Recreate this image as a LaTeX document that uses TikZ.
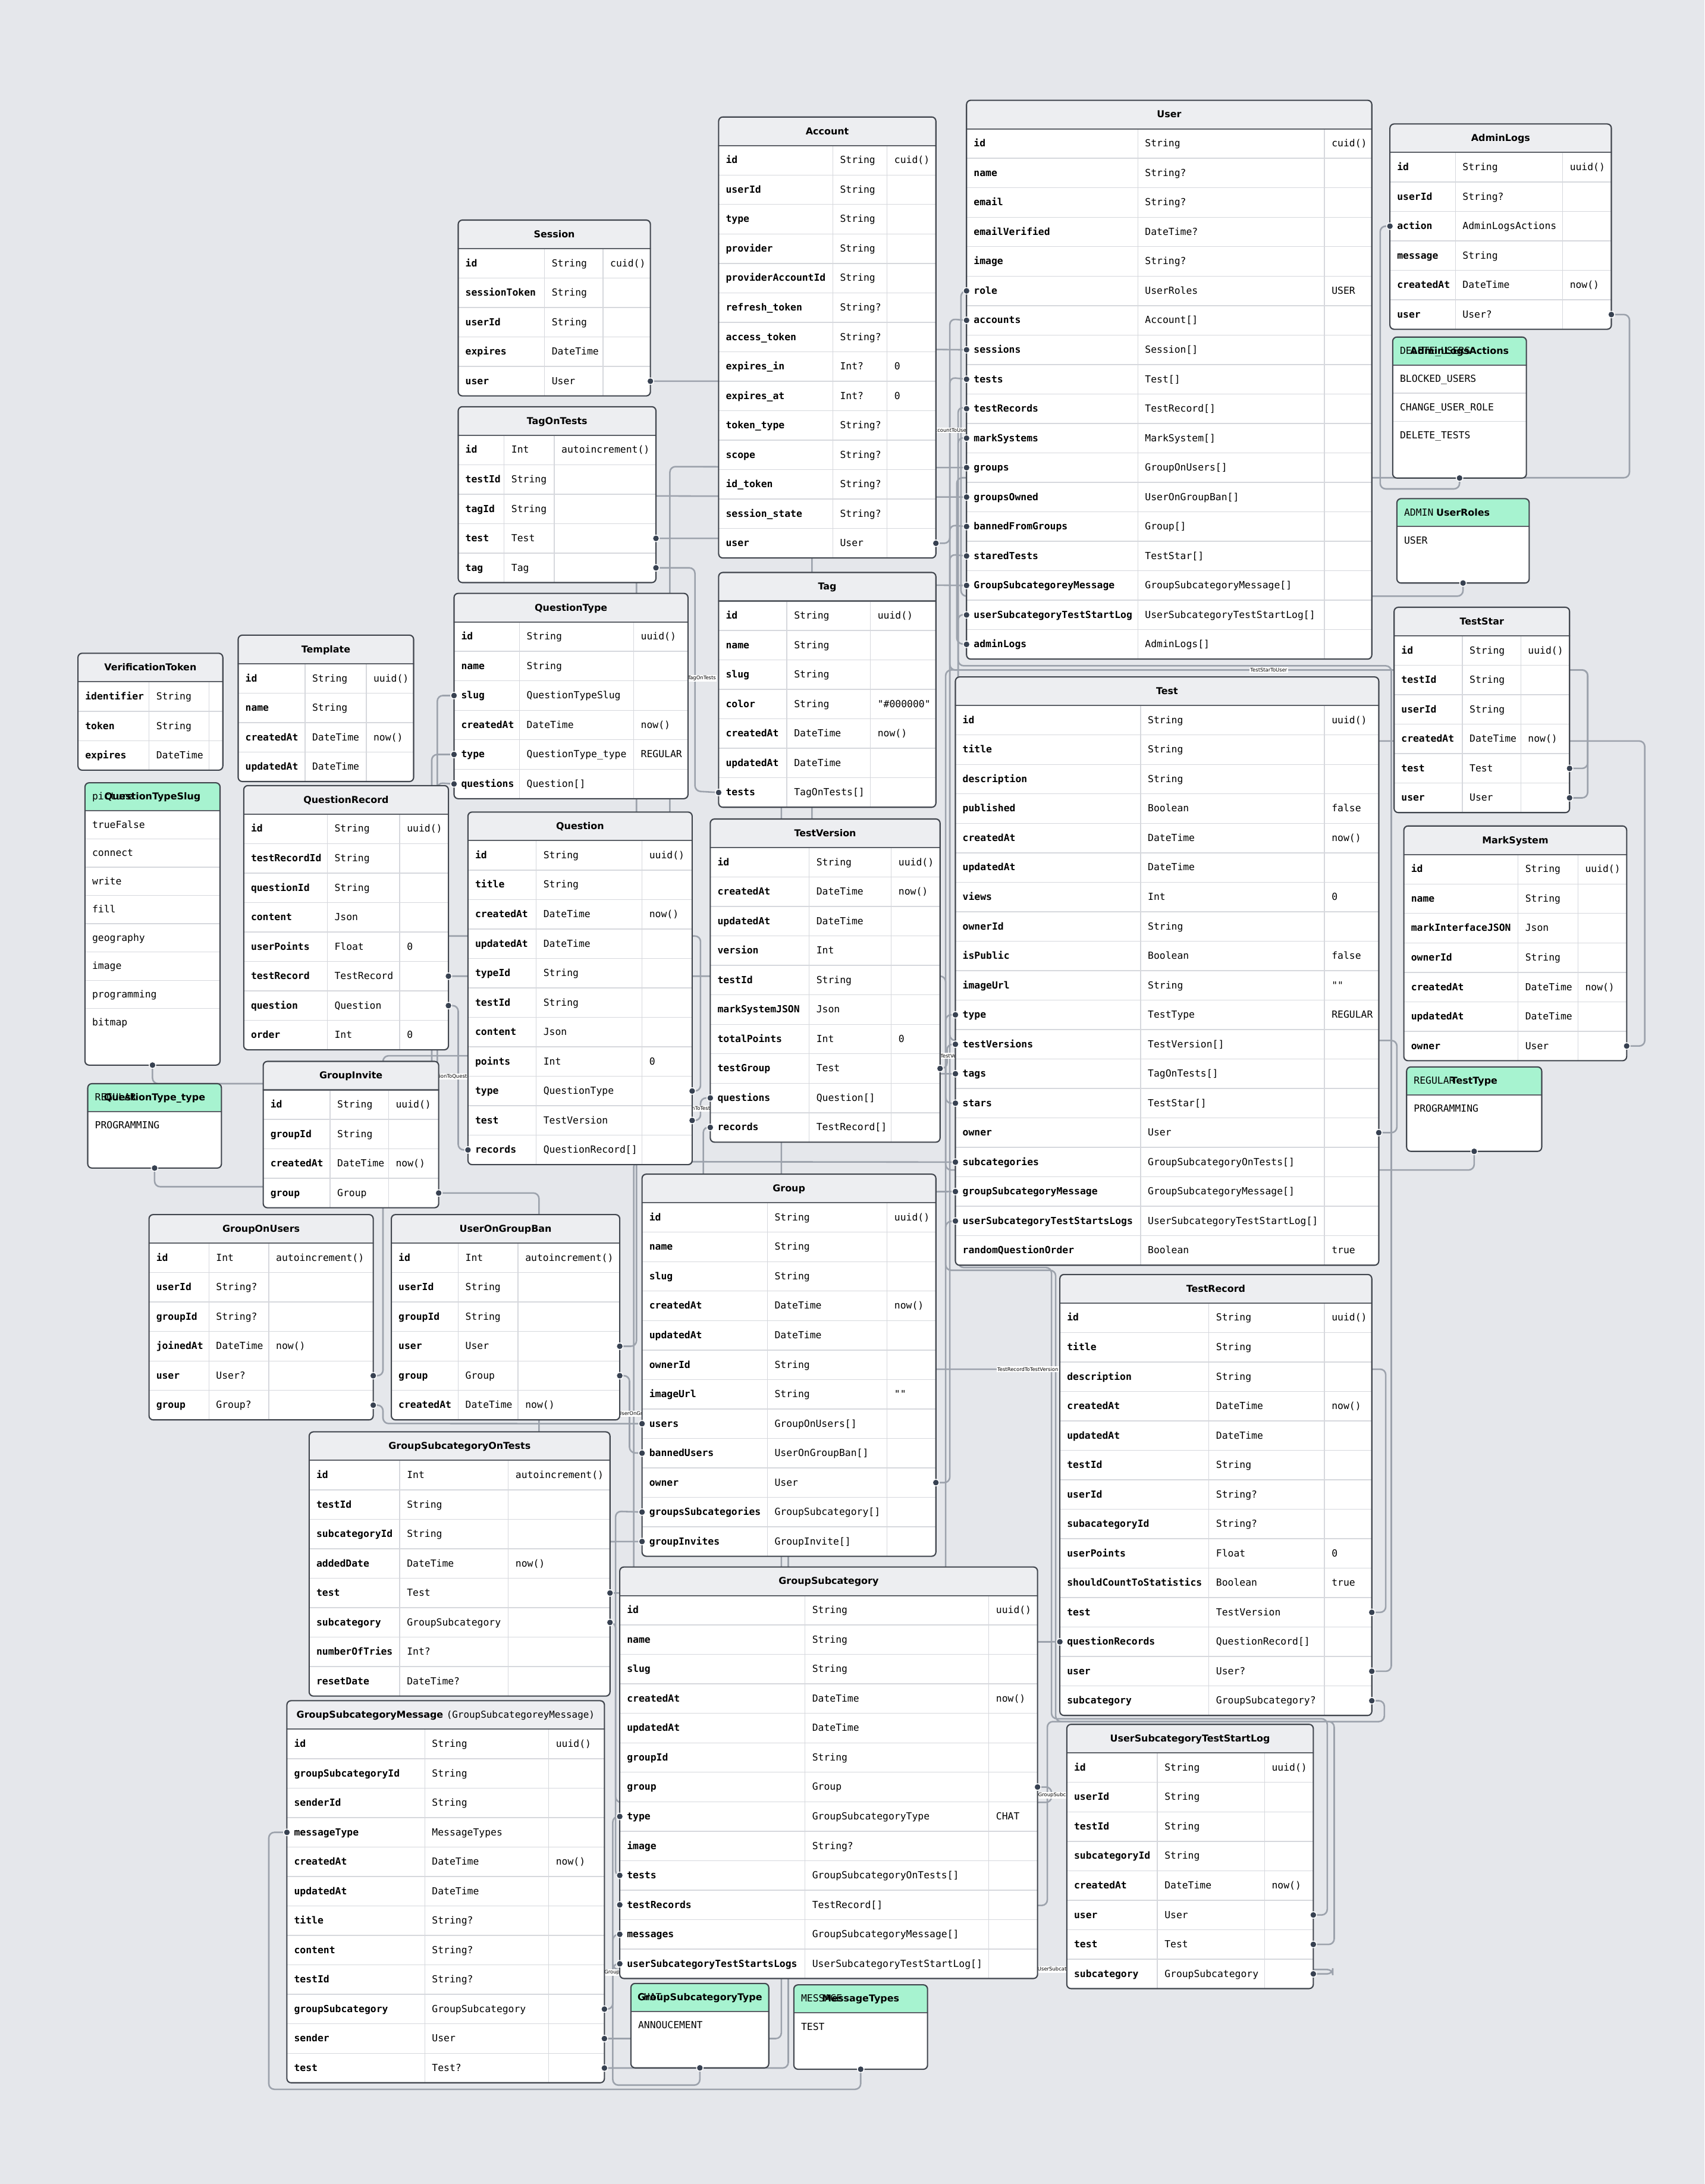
\documentclass[tikz,border=0pt]{standalone}
\usepackage{fontspec}
\newfontfamily\erdfont{DejaVu Sans Mono}[Ligatures=TeXOff]
\newfontfamily\erdtitlefont{DejaVu Sans}[Ligatures=TeXOff]
\definecolor{canvas}{HTML}{E5E7EB}
\definecolor{headgray}{HTML}{EDEEF1}
\definecolor{enumgreen}{HTML}{A7F3D0}
\definecolor{framecol}{HTML}{40454D}
\definecolor{rowcol}{HTML}{D6D8DD}
\definecolor{relcol}{HTML}{9CA2AC}
\definecolor{dotcol}{HTML}{374151}
\pgfdeclarelayer{canvaslayer}
\pgfdeclarelayer{edgelayer}
\pgfsetlayers{canvaslayer,edgelayer,main}
\tikzset{
  fieldname/.style={anchor=west, inner sep=0pt, text height=5.2pt, text depth=0.6pt, font=\erdfont\bfseries\fontsize{7}{8}\selectfont},
  fieldtype/.style={anchor=west, inner sep=0pt, text height=5.2pt, text depth=0.6pt, font=\erdfont\fontsize{7}{8}\selectfont},
  enumval/.style={fieldtype},
  tabletitle/.style={inner sep=0pt, text height=5.2pt, text depth=0.6pt, font=\erdtitlefont\bfseries\fontsize{6.8}{8}\selectfont},
  tableframe/.style={draw=framecol, line width=0.9pt, rounded corners=3pt, inner sep=0pt, outer sep=0pt},
  rowline/.style={draw=rowcol, line width=0.6pt},
  headline/.style={draw=framecol!85, line width=0.9pt},
  relline/.style={draw=relcol, line width=1.1pt, rounded corners=4pt},
  rellabel/.style={fill=white, inner sep=0.6pt, font=\erdtitlefont\fontsize{3.6}{4}\selectfont},
  enddot/.style={fill=dotcol, draw=white, line width=0.6pt}
}
\newcommand\erdnone{}
% #1 name, #2 left, #3 top, #4 type column, #5 default column, #6 right, #7 rows, #8 title, #9 fields
\newcommand\erdtable[9]{%
  \pgfmathsetmacro\tbot{#3+20.5+#7*21.15}
  \begin{scope}
    \clip[rounded corners=3pt] (#2,#3) rectangle (#6,\tbot);
    \fill[white] (#2,#3) rectangle (#6,\tbot);
    \fill[headgray] (#2,#3) rectangle (#6,{#3+20.5});
  \end{scope}
  \draw[rowline] (#4,{#3+20.5}) -- (#4,\tbot);
  \draw[rowline] (#5,{#3+20.5}) -- (#5,\tbot);
  \foreach \fldname/\fldtype/\flddef [count=\i] in {#9} {
    \pgfmathsetmacro\yc{#3+20.5+(\i-0.5)*21.15}
    \ifnum\i>1 \draw[rowline] (#2,{\yc-10.575}) -- (#6,{\yc-10.575}); \fi
    \coordinate (#1-\i-w) at (#2,\yc);
    \coordinate (#1-\i-e) at (#6,\yc);
    \node[fieldname] (#1-\i-n) at ({#2+5},\yc) {\fldname};
    \node[fieldtype] (#1-\i-t) at ({#4+5},\yc) {\fldtype};
    \node[fieldtype] (#1-\i-d) at ({#5+5},\yc) {\flddef};
  }
  \node[tabletitle] (#1-title) at ({(#2+#6)/2},{#3+10.25}) {#8};
  \draw[headline] (#2,{#3+20.5}) -- (#6,{#3+20.5});
  \node[tableframe, minimum width={#6-#2}, minimum height={\tbot-#3}, anchor=north west] (#1) at (#2,#3) {};
}
% #1 name, #2 left, #3 top, #4 right, #5 values, #6 value under the title, #7 title, #8 values
\newcommand\erdenum[8]{%
  \pgfmathsetmacro\tbot{#3+20+(#5+1)*20.3}
  \begin{scope}
    \clip[rounded corners=3pt] (#2,#3) rectangle (#4,\tbot);
    \fill[white] (#2,#3) rectangle (#4,\tbot);
    \fill[enumgreen] (#2,#3) rectangle (#4,{#3+20});
  \end{scope}
  \foreach \evalue [count=\i] in {#8} {
    \pgfmathsetmacro\yc{#3+20+(\i-0.5)*20.3}
    \ifnum\i>1 \draw[rowline] (#2,{\yc-10.15}) -- (#4,{\yc-10.15}); \fi
    \node[enumval] (#1-\i) at ({#2+5},\yc) {\evalue};
  }
  \node[enumval] (#1-first) at ({#2+5},{#3+10}) {#6};
  \node[tabletitle] (#1-title) at ({(#2+#4)/2},{#3+10}) {#7};
  \draw[headline] (#2,{#3+20}) -- (#4,{#3+20});
  \node[tableframe, minimum width={#4-#2}, minimum height={\tbot-#3}, anchor=north west] (#1) at (#2,#3) {};
}
\begin{document}
\begin{tikzpicture}[x=1pt, y=-1pt, line join=round, line cap=round]
	\begin{pgfonlayer}{canvaslayer}
	\fill[canvas] (0,0) rectangle (1224,1568);
	\end{pgfonlayer}
	\useasboundingbox (0,0) rectangle (1224,1568);
	% tables
	\erdtable{Session}{329}{158}{391}{433}{467}{5}{Session}{id/String/cuid(), sessionToken/String/\erdnone, userId/String/\erdnone, expires/DateTime/\erdnone, user/User/\erdnone}
	\erdtable{TagOnTests}{329}{292}{362}{398}{471}{5}{TagOnTests}{id/Int/autoincrement(), testId/String/\erdnone, tagId/String/\erdnone, test/Test/\erdnone, tag/Tag/\erdnone}
	\erdtable{Account}{516}{84}{598}{637}{672}{14}{Account}{id/String/cuid(), userId/String/\erdnone, type/String/\erdnone, provider/String/\erdnone, providerAccountId/String/\erdnone, refresh\_token/String?/\erdnone, access\_token/String?/\erdnone, expires\_in/Int?/0, expires\_at/Int?/0, token\_type/String?/\erdnone, scope/String?/\erdnone, id\_token/String?/\erdnone, session\_state/String?/\erdnone, user/User/\erdnone}
	\erdtable{User}{694}{72}{817}{951}{985}{18}{User}{id/String/cuid(), name/String?/\erdnone, email/String?/\erdnone, emailVerified/DateTime?/\erdnone, image/String?/\erdnone, role/UserRoles/USER, accounts/Account[]/\erdnone, sessions/Session[]/\erdnone, tests/Test[]/\erdnone, testRecords/TestRecord[]/\erdnone, markSystems/MarkSystem[]/\erdnone, groups/GroupOnUsers[]/\erdnone, groupsOwned/UserOnGroupBan[]/\erdnone, bannedFromGroups/Group[]/\erdnone, staredTests/TestStar[]/\erdnone, GroupSubcategoreyMessage/GroupSubcategoryMessage[]/\erdnone, userSubcategoryTestStartLog/UserSubcategoryTestStartLog[]/\erdnone, adminLogs/AdminLogs[]/\erdnone}
	\erdtable{AdminLogs}{998}{89}{1045}{1122}{1157}{6}{AdminLogs}{id/String/uuid(), userId/String?/\erdnone, action/AdminLogsActions/\erdnone, message/String/\erdnone, createdAt/DateTime/now(), user/User?/\erdnone}
	\erdenum{AdminLogsActions}{1000}{242}{1096}{3}{DELETE\_USERS}{AdminLogsActions}{BLOCKED\_USERS, CHANGE\_USER\_ROLE, DELETE\_TESTS}
	\erdenum{UserRoles}{1003}{358}{1098}{1}{ADMIN}{UserRoles}{USER}
	\erdtable{TestStar}{1001}{436}{1050}{1092}{1127}{6}{TestStar}{id/String/uuid(), testId/String/\erdnone, userId/String/\erdnone, createdAt/DateTime/now(), test/Test/\erdnone, user/User/\erdnone}
	\erdtable{Tag}{516}{411}{565}{625}{672}{7}{Tag}{id/String/uuid(), name/String/\erdnone, slug/String/\erdnone, color/String/"\#000000", createdAt/DateTime/now(), updatedAt/DateTime/\erdnone, tests/TagOnTests[]/\erdnone}
	\erdtable{QuestionType}{326}{426}{373}{455}{494}{6}{QuestionType}{id/String/uuid(), name/String/\erdnone, slug/QuestionTypeSlug/\erdnone, createdAt/DateTime/now(), type/QuestionType\_type/REGULAR, questions/Question[]/\erdnone}
	\erdtable{Template}{171}{456}{219}{263}{297}{4}{Template}{id/String/uuid(), name/String/\erdnone, createdAt/DateTime/now(), updatedAt/DateTime/\erdnone}
	\erdtable{VerificationToken}{56}{469}{107}{150}{160}{3}{VerificationToken}{identifier/String/\erdnone, token/String/\erdnone, expires/DateTime/\erdnone}
	\erdenum{QuestionTypeSlug}{61}{562}{158}{8}{picture}{QuestionTypeSlug}{trueFalse, connect, write, fill, geography, image, programming, bitmap}
	\erdenum{QuestionTypeType}{63}{778}{159}{1}{REGULAR}{QuestionType\_type}{PROGRAMMING}
	\erdtable{QuestionRecord}{175}{564}{235}{287}{322}{8}{QuestionRecord}{id/String/uuid(), testRecordId/String/\erdnone, questionId/String/\erdnone, content/Json/\erdnone, userPoints/Float/0, testRecord/TestRecord/\erdnone, question/Question/\erdnone, order/Int/0}
	\erdtable{Question}{336}{583}{385}{461}{497}{11}{Question}{id/String/uuid(), title/String/\erdnone, createdAt/DateTime/now(), updatedAt/DateTime/\erdnone, typeId/String/\erdnone, testId/String/\erdnone, content/Json/\erdnone, points/Int/0, type/QuestionType/\erdnone, test/TestVersion/\erdnone, records/QuestionRecord[]/\erdnone}
	\erdtable{TestVersion}{510}{588}{581}{640}{675}{10}{TestVersion}{id/String/uuid(), createdAt/DateTime/now(), updatedAt/DateTime/\erdnone, version/Int/\erdnone, testId/String/\erdnone, markSystemJSON/Json/\erdnone, totalPoints/Int/0, testGroup/Test/\erdnone, questions/Question[]/\erdnone, records/TestRecord[]/\erdnone}
	\erdtable{Test}{686}{486}{819}{951}{990}{19}{Test}{id/String/uuid(), title/String/\erdnone, description/String/\erdnone, published/Boolean/false, createdAt/DateTime/now(), updatedAt/DateTime/\erdnone, views/Int/0, ownerId/String/\erdnone, isPublic/Boolean/false, imageUrl/String/"", type/TestType/REGULAR, testVersions/TestVersion[]/\erdnone, tags/TagOnTests[]/\erdnone, stars/TestStar[]/\erdnone, owner/User/\erdnone, subcategories/GroupSubcategoryOnTests[]/\erdnone, groupSubcategoryMessage/GroupSubcategoryMessage[]/\erdnone, userSubcategoryTestStartsLogs/UserSubcategoryTestStartLog[]/\erdnone, randomQuestionOrder/Boolean/true}
	\erdtable{MarkSystem}{1008}{593}{1090}{1133}{1168}{7}{MarkSystem}{id/String/uuid(), name/String/\erdnone, markInterfaceJSON/Json/\erdnone, ownerId/String/\erdnone, createdAt/DateTime/now(), updatedAt/DateTime/\erdnone, owner/User/\erdnone}
	\erdenum{TestType}{1010}{766}{1107}{1}{REGULAR}{TestType}{PROGRAMMING}
	\erdtable{GroupInvite}{189}{762}{237}{279}{315}{4}{GroupInvite}{id/String/uuid(), groupId/String/\erdnone, createdAt/DateTime/now(), group/Group/\erdnone}
	\erdtable{GroupOnUsers}{107}{872}{150}{193}{268}{6}{GroupOnUsers}{id/Int/autoincrement(), userId/String?/\erdnone, groupId/String?/\erdnone, joinedAt/DateTime/now(), user/User?/\erdnone, group/Group?/\erdnone}
	\erdtable{UserOnGroupBan}{281}{872}{329}{372}{445}{6}{UserOnGroupBan}{id/Int/autoincrement(), userId/String/\erdnone, groupId/String/\erdnone, user/User/\erdnone, group/Group/\erdnone, createdAt/DateTime/now()}
	\erdtable{Group}{461}{843}{551}{637}{672}{12}{Group}{id/String/uuid(), name/String/\erdnone, slug/String/\erdnone, createdAt/DateTime/now(), updatedAt/DateTime/\erdnone, ownerId/String/\erdnone, imageUrl/String/"", users/GroupOnUsers[]/\erdnone, bannedUsers/UserOnGroupBan[]/\erdnone, owner/User/\erdnone, groupsSubcategories/GroupSubcategory[]/\erdnone, groupInvites/GroupInvite[]/\erdnone}
	\erdtable{TestRecord}{761}{915}{868}{951}{985}{14}{TestRecord}{id/String/uuid(), title/String/\erdnone, description/String/\erdnone, createdAt/DateTime/now(), updatedAt/DateTime/\erdnone, testId/String/\erdnone, userId/String?/\erdnone, subacategoryId/String?/\erdnone, userPoints/Float/0, shouldCountToStatistics/Boolean/true, test/TestVersion/\erdnone, questionRecords/QuestionRecord[]/\erdnone, user/User?/\erdnone, subcategory/GroupSubcategory?/\erdnone}
	\erdtable{GroupSubcategoryOnTests}{222}{1028}{287}{365}{438}{8}{GroupSubcategoryOnTests}{id/Int/autoincrement(), testId/String/\erdnone, subcategoryId/String/\erdnone, addedDate/DateTime/now(), test/Test/\erdnone, subcategory/GroupSubcategory/\erdnone, numberOfTries/Int?/\erdnone, resetDate/DateTime?/\erdnone}
	\erdtable{GroupSubcategory}{445}{1125}{578}{710}{745}{13}{GroupSubcategory}{id/String/uuid(), name/String/\erdnone, slug/String/\erdnone, createdAt/DateTime/now(), updatedAt/DateTime/\erdnone, groupId/String/\erdnone, group/Group/\erdnone, type/GroupSubcategoryType/CHAT, image/String?/\erdnone, tests/GroupSubcategoryOnTests[]/\erdnone, testRecords/TestRecord[]/\erdnone, messages/GroupSubcategoryMessage[]/\erdnone, userSubcategoryTestStartsLogs/UserSubcategoryTestStartLog[]/\erdnone}
	\erdtable{GroupSubcategoryMessage}{206}{1221}{305}{394}{434}{12}{GroupSubcategoryMessage\ \mdseries\erdfont(GroupSubcategoreyMessage)}{id/String/uuid(), groupSubcategoryId/String/\erdnone, senderId/String/\erdnone, messageType/MessageTypes/\erdnone, createdAt/DateTime/now(), updatedAt/DateTime/\erdnone, title/String?/\erdnone, content/String?/\erdnone, testId/String?/\erdnone, groupSubcategory/GroupSubcategory/\erdnone, sender/User/\erdnone, test/Test?/\erdnone}
	\erdtable{UserSubcategoryTestStartLog}{766}{1238}{831}{908}{943}{8}{UserSubcategoryTestStartLog}{id/String/uuid(), userId/String/\erdnone, testId/String/\erdnone, subcategoryId/String/\erdnone, createdAt/DateTime/now(), user/User/\erdnone, test/Test/\erdnone, subcategory/GroupSubcategory/\erdnone}
	\erdenum{GroupSubcategoryType}{453}{1424}{552}{1}{CHAT}{GroupSubcategoryType}{ANNOUCEMENT}
	\erdenum{MessageTypes}{570}{1425}{666}{1}{MESSAGE}{MessageTypes}{TEST}
	% relations, under the tables
	\begin{pgfonlayer}{edgelayer}
	\draw[relline] (Account-14-e) -| (682,229) -- (User-7-w);
	\draw[relline] (Session-5-e) -| (577,250) -- (User-8-w);
	\draw[relline] (User-6-w) -| (690,428) -| (UserRoles.south);
	\draw[relline] (AdminLogs-3-w) -| (991,351) -| (AdminLogsActions.south);
	\draw[relline] (AdminLogs-6-e) -| (1170,343) -| (687,462) -- (User-18-w);
	\draw[relline] (TestStar-6-e) -| (1140,481) -| (682,398) -- (User-15-w);
	\draw[relline] (TestStar-5-e) -| (1140,481) -| (679,792) -- (Test-14-w);
	\draw[relline] (Test-15-e) -| (1003,747) -| (682,271) -- (User-9-w);
	\draw[relline] (TestType.south) |- (679,840) |- (Test-11-w);
	\draw[relline] (TagOnTests-4-e) -| (583,771) -- (Test-13-w);
	\draw[relline] (TagOnTests-5-e) -| (499,568) -- (Tag-7-w);
	\draw[relline] (QuestionType-3-w) -| (314,778) -| (QuestionTypeSlug.south);
	\draw[relline] (QuestionType-5-w) -| (310,852) -| (QuestionTypeType.south);
	\draw[relline] (Question-9-e) -| (503,672) -| (314,562) -- (QuestionType-6-w);
	\draw[relline] (Question-10-e) -- ++(6,0) |- (TestVersion-9-w);
	\draw[relline] (QuestionRecord-7-e) -- ++(7,0) |- (Question-11-w);
	\draw[relline] (QuestionRecord-6-e) -| (679,1179) -- (TestRecord-12-w);
	\draw[relline] (TestRecord-11-e) -| (995,983) -| (505,809) -- (TestVersion-10-w);
	\draw[relline] (TestVersion-8-e) -- ++(5,0) |- (Test-12-w);
	\draw[relline] (MarkSystem-7-e) -| (1181,532) -| (688,314) -- (User-11-w);
	\draw[relline] (GroupInvite-4-e) -| (387,1107) -- (Group-12-w);
	\draw[relline] (GroupOnUsers-5-e) -| (275,758) -| (481,335) -- (User-12-w);
	\draw[relline] (GroupOnUsers-6-e) -| (275,1022) -- (Group-8-w);
	\draw[relline] (UserOnGroupBan-4-e) -| (457,356) -- (User-13-w);
	\draw[relline] (UserOnGroupBan-5-e) -| (452,1043) -- (Group-9-w);
	\draw[relline] (Group-10-e) -| (682,377) -- (User-14-w);
	\draw[relline] (GroupSubcategory-7-e) -| (755,1294) -| (442,1085) -- (Group-11-w);
	\draw[relline] (GroupSubcategory-8-w) -| (440,1497) -| (GroupSubcategoryType.south);
	\draw[relline] (GroupSubcategoryMessage-4-w) -| (193,1500) -| (MessageTypes.south);
	\draw[relline] (GroupSubcategoryMessage-10-e) -| (440,1389) -- (GroupSubcategory-12-w);
	\draw[relline] (GroupSubcategoryMessage-11-e) -| (561,419) -- (User-16-w);
	\draw[relline] (GroupSubcategoryMessage-12-e) -| (566,856) -- (Test-17-w);
	\draw[relline] (GroupSubcategoryOnTests-5-e) -| (455,834) -- (Test-16-w);
	\draw[relline] (GroupSubcategoryOnTests-6-e) -| (442,1347) -- (GroupSubcategory-10-w);
	\draw[relline] (TestRecord-13-e) -| (999,478) -| (688,292) -- (User-10-w);
	\draw[relline] (TestRecord-14-e) -| (994,1236) -| (752,1368) -- (GroupSubcategory-11-w);
	\draw[relline] (UserSubcategoryTestStartLog-6-e) -| (953,1234) -| (755,910) -| (688,441) -- (User-17-w);
	\draw[relline] (UserSubcategoryTestStartLog-7-e) -| (958,1236) -| (758,912) -| (679,877) -- (Test-18-w);
	\draw[relline] (UserSubcategoryTestStartLog-8-e) -| (957,1414) -| (440,1410) -- (GroupSubcategory-13-w);
	% relation names, mostly hidden by the tables
	\node[rellabel] (lblAccount) at (682,309) {AccountToUser};
	\node[rellabel] (lblStar) at (911,481) {TestStarToUser};
	\node[rellabel] (lblRecord) at (738,983) {TestRecordToTestVersion};
	\node[rellabel] (lblTag) at (499,487) {TagToTagOnTests};
	\node[rellabel] (lblVersion) at (680,758) {TestToTestVersion};
	\node[rellabel] (lblBan) at (452,1015) {GroupToUserOnGroupBan};
	\node[rellabel] (lblQuestion) at (329,773) {QuestionToQuestionRecord};
	\node[rellabel] (lblQVersion) at (503,796) {QuestionToTestVersion};
	\node[rellabel] (lblSubGroup) at (755,1289) {GroupToGroupSubcategory};
	\node[rellabel] (lblSubLog) at (753,1414) {GroupSubcategoryToUserSubcategoryTestStartLog};
	\node[rellabel] (lblSubMsg) at (440,1416) {GroupSubcategoryToGroupSubcategoryMessage};
	\end{pgfonlayer}
	% relation ends
	\foreach \p in {Account-14-e, User-7-w, Session-5-e, User-8-w, User-6-w, UserRoles.south, AdminLogs-3-w, AdminLogsActions.south, AdminLogs-6-e, User-18-w, TestStar-6-e, User-15-w, TestStar-5-e, Test-14-w, Test-15-e, User-9-w, TestType.south, Test-11-w, TagOnTests-4-e, Test-13-w, TagOnTests-5-e, Tag-7-w, QuestionType-3-w, QuestionTypeSlug.south, QuestionType-5-w, QuestionTypeType.south, Question-9-e, QuestionType-6-w, Question-10-e, TestVersion-9-w, QuestionRecord-7-e, Question-11-w, QuestionRecord-6-e, TestRecord-12-w, TestRecord-11-e, TestVersion-10-w, TestVersion-8-e, Test-12-w, MarkSystem-7-e, User-11-w, GroupInvite-4-e, Group-12-w, GroupOnUsers-5-e, User-12-w, GroupOnUsers-6-e, Group-8-w, UserOnGroupBan-4-e, User-13-w, UserOnGroupBan-5-e, Group-9-w, Group-10-e, User-14-w, GroupSubcategory-7-e, Group-11-w, GroupSubcategory-8-w, GroupSubcategoryType.south, GroupSubcategoryMessage-4-w, MessageTypes.south, GroupSubcategoryMessage-10-e, GroupSubcategory-12-w, GroupSubcategoryMessage-11-e, User-16-w, GroupSubcategoryMessage-12-e, Test-17-w, GroupSubcategoryOnTests-5-e, Test-16-w, GroupSubcategoryOnTests-6-e, GroupSubcategory-10-w, TestRecord-13-e, User-10-w, TestRecord-14-e, GroupSubcategory-11-w, UserSubcategoryTestStartLog-6-e, User-17-w, UserSubcategoryTestStartLog-7-e, Test-18-w, UserSubcategoryTestStartLog-8-e, GroupSubcategory-13-w}
	\fill[enddot] (\p) circle[radius=2.4pt];
\end{tikzpicture}
\end{document}
